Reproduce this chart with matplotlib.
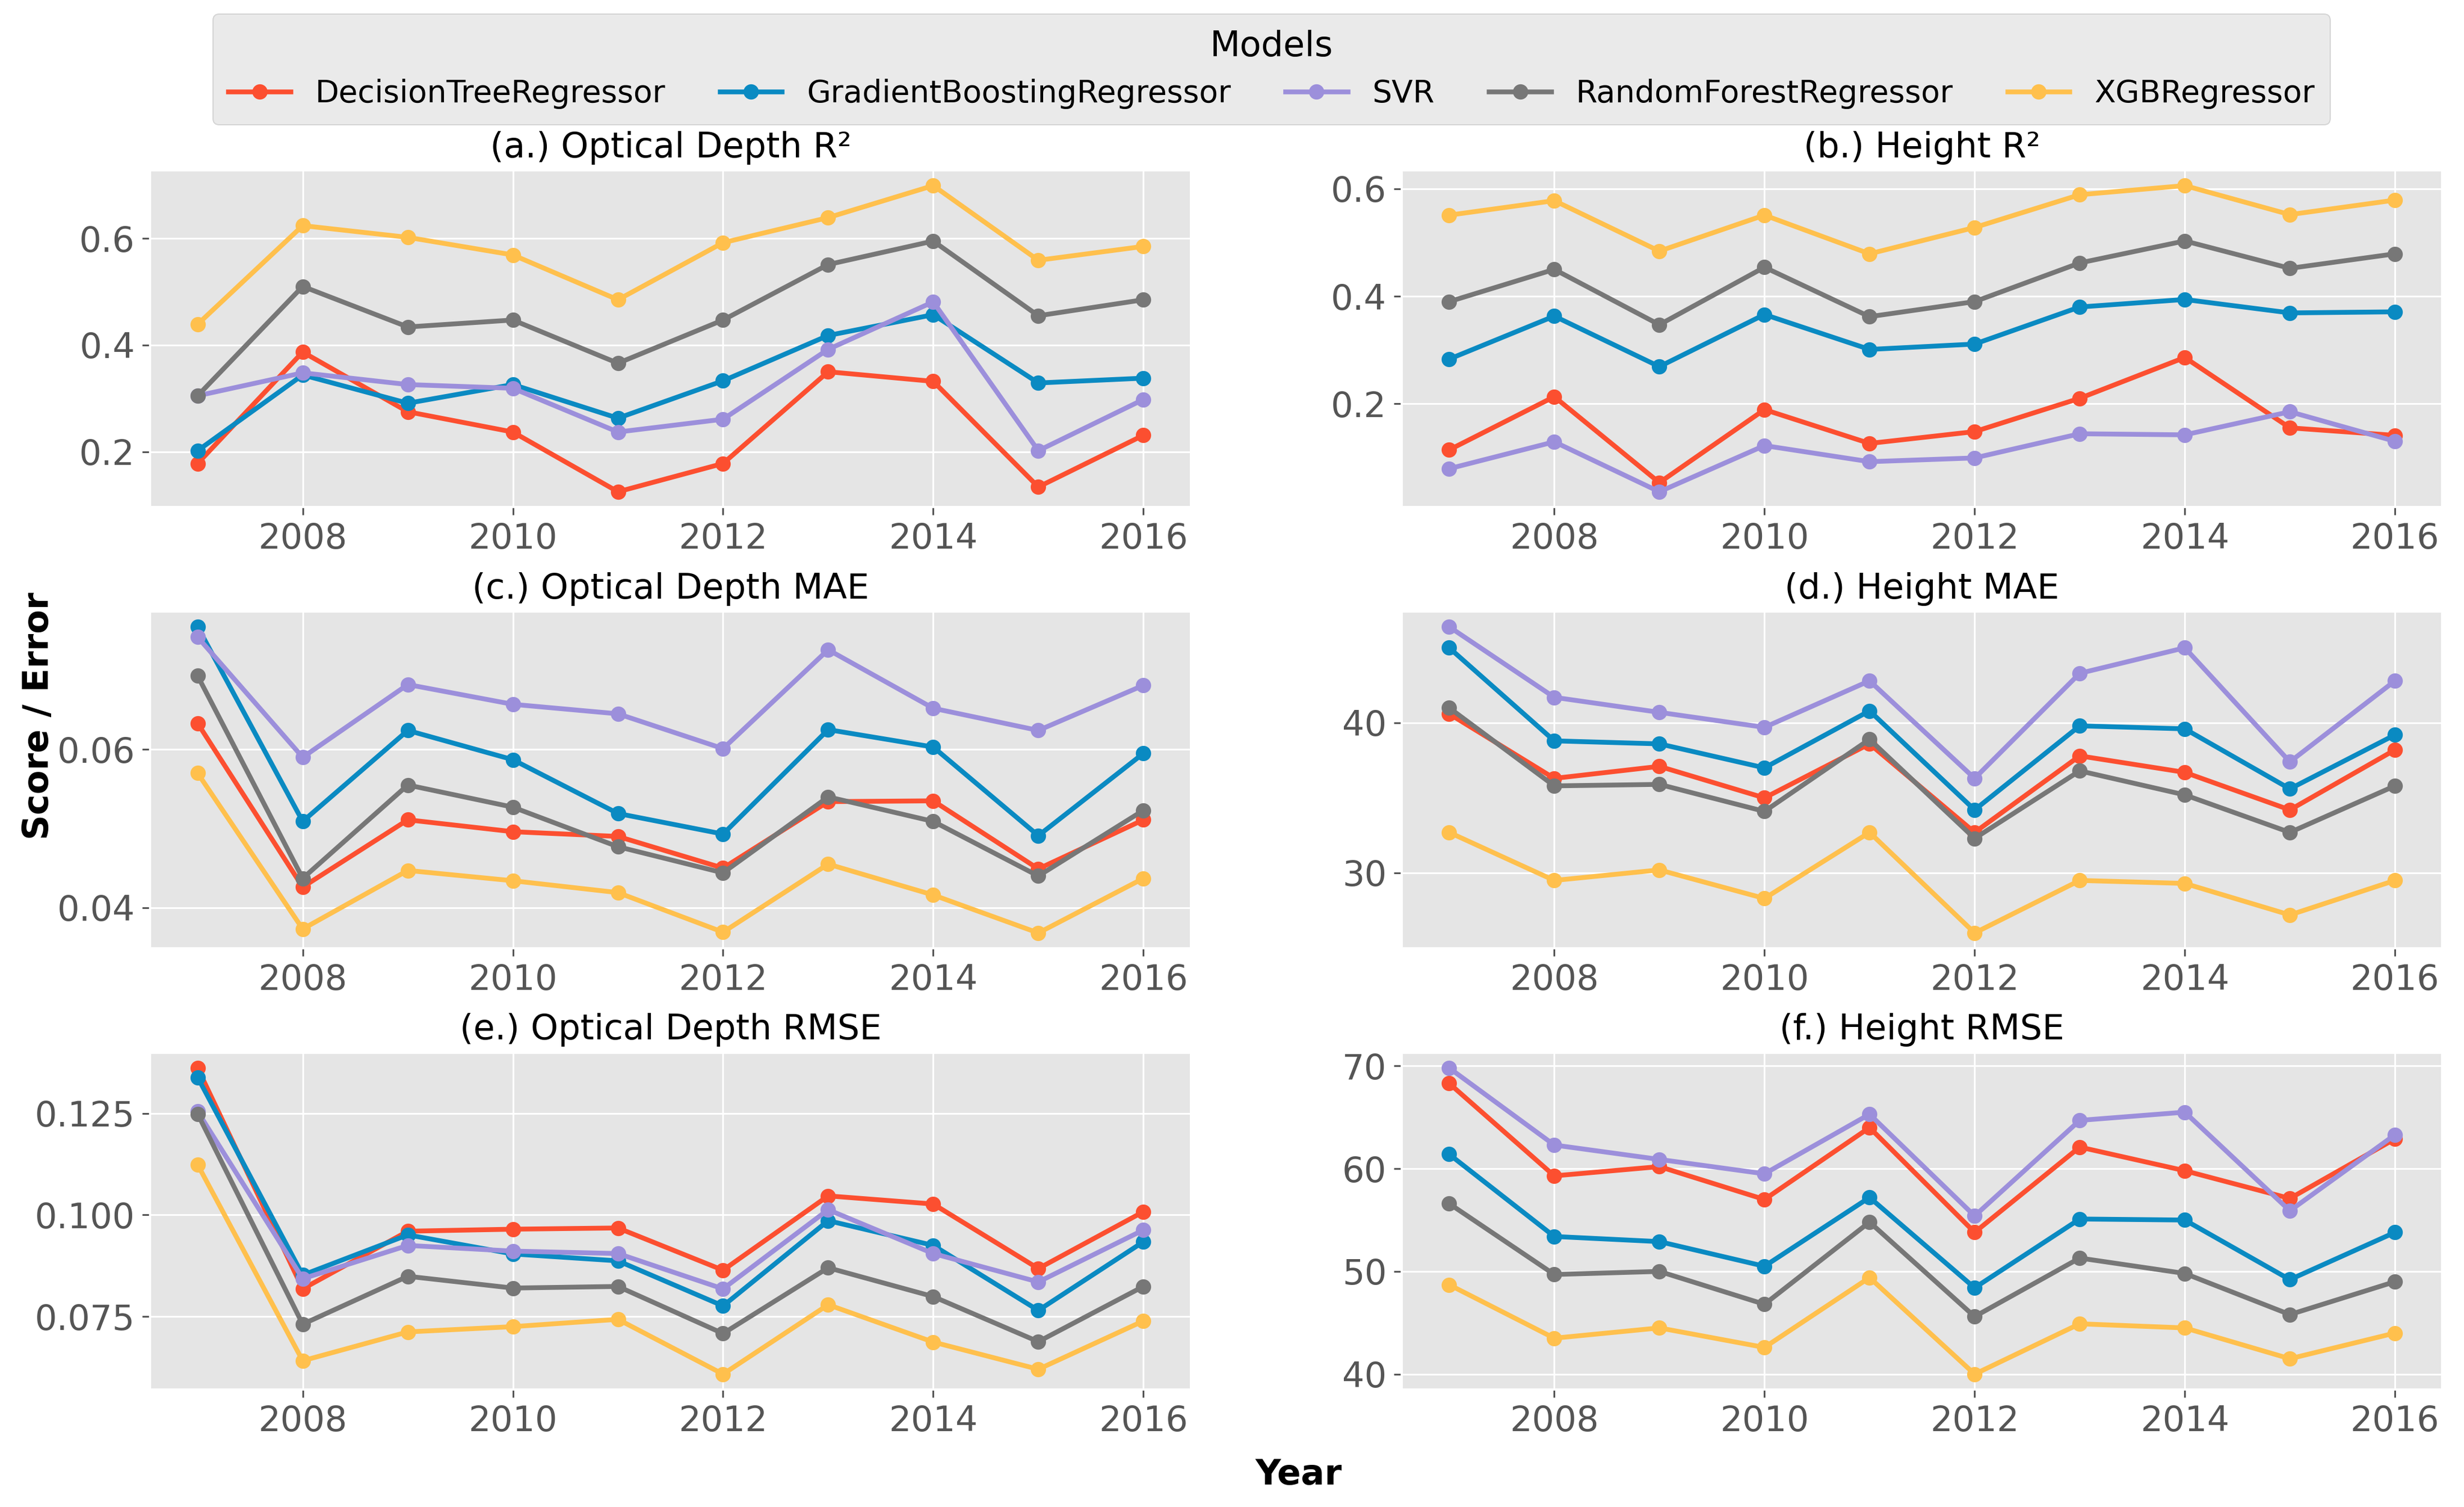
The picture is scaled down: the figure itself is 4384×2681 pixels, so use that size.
import matplotlib
matplotlib.use("Agg")
import matplotlib.pyplot as plt

plt.style.use("ggplot")

years = [2007, 2008, 2009, 2010, 2011, 2012, 2013, 2014, 2015, 2016]
models = ["DecisionTreeRegressor", "GradientBoostingRegressor", "SVR",
          "RandomForestRegressor", "XGBRegressor"]
colors = ["#FC4F30", "#0A8AC2", "#9C8FDB", "#777777", "#FFC04D"]

# (a.) Optical Depth R2
od_r2 = {
    "DecisionTreeRegressor": [0.178, 0.387, 0.275, 0.237, 0.125, 0.178, 0.350, 0.332, 0.134, 0.231],
    "GradientBoostingRegressor": [0.202, 0.344, 0.291, 0.326, 0.263, 0.333, 0.418, 0.457, 0.329, 0.338],
    "SVR": [0.305, 0.348, 0.326, 0.319, 0.237, 0.261, 0.392, 0.481, 0.202, 0.298],
    "RandomForestRegressor": [0.305, 0.510, 0.434, 0.447, 0.366, 0.447, 0.551, 0.595, 0.455, 0.485],
    "XGBRegressor": [0.439, 0.624, 0.602, 0.569, 0.485, 0.592, 0.639, 0.699, 0.559, 0.585],
}

# (b.) Height R2
h_r2 = {
    "DecisionTreeRegressor": [0.114, 0.213, 0.053, 0.189, 0.126, 0.148, 0.210, 0.286, 0.155, 0.141],
    "GradientBoostingRegressor": [0.283, 0.363, 0.269, 0.366, 0.301, 0.311, 0.380, 0.394, 0.369, 0.371],
    "SVR": [0.079, 0.129, 0.036, 0.122, 0.092, 0.099, 0.144, 0.142, 0.185, 0.130],
    "RandomForestRegressor": [0.390, 0.450, 0.347, 0.454, 0.362, 0.390, 0.462, 0.503, 0.452, 0.479],
    "XGBRegressor": [0.551, 0.578, 0.484, 0.551, 0.479, 0.528, 0.589, 0.606, 0.552, 0.579],
}

# (c.) Optical Depth MAE
od_mae = {
    "DecisionTreeRegressor": [0.0633, 0.0426, 0.0511, 0.0496, 0.0490, 0.0450, 0.0534, 0.0535, 0.0449, 0.0511],
    "GradientBoostingRegressor": [0.0755, 0.0509, 0.0624, 0.0587, 0.0519, 0.0493, 0.0625, 0.0603, 0.0491, 0.0595],
    "SVR": [0.0742, 0.0590, 0.0682, 0.0657, 0.0645, 0.0601, 0.0726, 0.0652, 0.0624, 0.0681],
    "RandomForestRegressor": [0.0693, 0.0437, 0.0555, 0.0527, 0.0477, 0.0444, 0.0540, 0.0509, 0.0440, 0.0523],
    "XGBRegressor": [0.0570, 0.0373, 0.0447, 0.0434, 0.0419, 0.0369, 0.0455, 0.0416, 0.0368, 0.0437],
}

# (d.) Height MAE
h_mae = {
    "DecisionTreeRegressor": [40.6, 36.3, 37.1, 35.0, 38.6, 32.7, 37.8, 36.7, 34.2, 38.2],
    "GradientBoostingRegressor": [45.0, 38.8, 38.6, 37.0, 40.8, 34.2, 39.8, 39.6, 35.6, 39.2],
    "SVR": [46.4, 41.7, 40.7, 39.7, 42.8, 36.3, 43.3, 45.0, 37.4, 42.8],
    "RandomForestRegressor": [41.0, 35.8, 35.9, 34.1, 38.9, 32.3, 36.8, 35.2, 32.7, 35.8],
    "XGBRegressor": [32.7, 29.5, 30.2, 28.3, 32.7, 26.0, 29.5, 29.3, 27.2, 29.5],
}

# (e.) Optical Depth RMSE
od_rmse = {
    "DecisionTreeRegressor": [0.1362, 0.0818, 0.0960, 0.0965, 0.0968, 0.0864, 0.1047, 0.1027, 0.0868, 0.1008],
    "GradientBoostingRegressor": [0.1339, 0.0852, 0.0951, 0.0904, 0.0887, 0.0776, 0.0986, 0.0925, 0.0765, 0.0934],
    "SVR": [0.1255, 0.0843, 0.0925, 0.0911, 0.0905, 0.0818, 0.1013, 0.0905, 0.0835, 0.0963],
    "RandomForestRegressor": [0.1249, 0.0731, 0.0849, 0.0820, 0.0824, 0.0708, 0.0870, 0.0799, 0.0688, 0.0824],
    "XGBRegressor": [0.1124, 0.0641, 0.0712, 0.0725, 0.0743, 0.0608, 0.0779, 0.0687, 0.0620, 0.0739],
}

# (f.) Height RMSE
h_rmse = {
    "DecisionTreeRegressor": [68.3, 59.3, 60.2, 57.0, 64.0, 53.8, 62.1, 59.8, 57.1, 62.9],
    "GradientBoostingRegressor": [61.4, 53.4, 52.9, 50.5, 57.2, 48.4, 55.1, 55.0, 49.2, 53.8],
    "SVR": [69.8, 62.3, 60.9, 59.5, 65.3, 55.4, 64.7, 65.5, 55.9, 63.3],
    "RandomForestRegressor": [56.6, 49.7, 50.0, 46.8, 54.8, 45.6, 51.3, 49.8, 45.8, 49.0],
    "XGBRegressor": [48.7, 43.5, 44.5, 42.6, 49.4, 40.0, 44.9, 44.5, 41.5, 44.0],
}

panels = [
    ("(a.) Optical Depth R\u00b2", od_r2),
    ("(b.) Height R\u00b2", h_r2),
    ("(c.) Optical Depth MAE", od_mae),
    ("(d.) Height MAE", h_mae),
    ("(e.) Optical Depth RMSE", od_rmse),
    ("(f.) Height RMSE", h_rmse),
]

fig, axes = plt.subplots(3, 2, figsize=(15.66, 9.575), dpi=280)
fig.subplots_adjust(left=0.061, right=0.991, top=0.887, bottom=0.078,
                    wspace=0.203, hspace=0.31)

for ax, (title, data) in zip(axes.flat, panels):
    for model, color in zip(models, colors):
        ax.plot(years, data[model], marker="o", color=color, lw=2.2,
                markersize=6, label=model)
    ax.set_title(title, fontsize=16, color="black", pad=6)
    ax.tick_params(labelsize=16, colors="#555555")

handles, labels = axes[0, 0].get_legend_handles_labels()
leg = fig.legend(handles, labels, loc="upper center", bbox_to_anchor=(0.516, 1.001),
                 ncol=5, title="Models", fontsize=14.2, title_fontsize=16,
                 columnspacing=1.75, borderpad=0.5)

fig.supylabel("Score / Error", fontsize=16, fontweight="bold", x=0.009, y=0.525)
fig.supxlabel("Year", fontsize=16, fontweight="bold", x=0.527, y=0.01)

fig.savefig("out.png", dpi=280)
